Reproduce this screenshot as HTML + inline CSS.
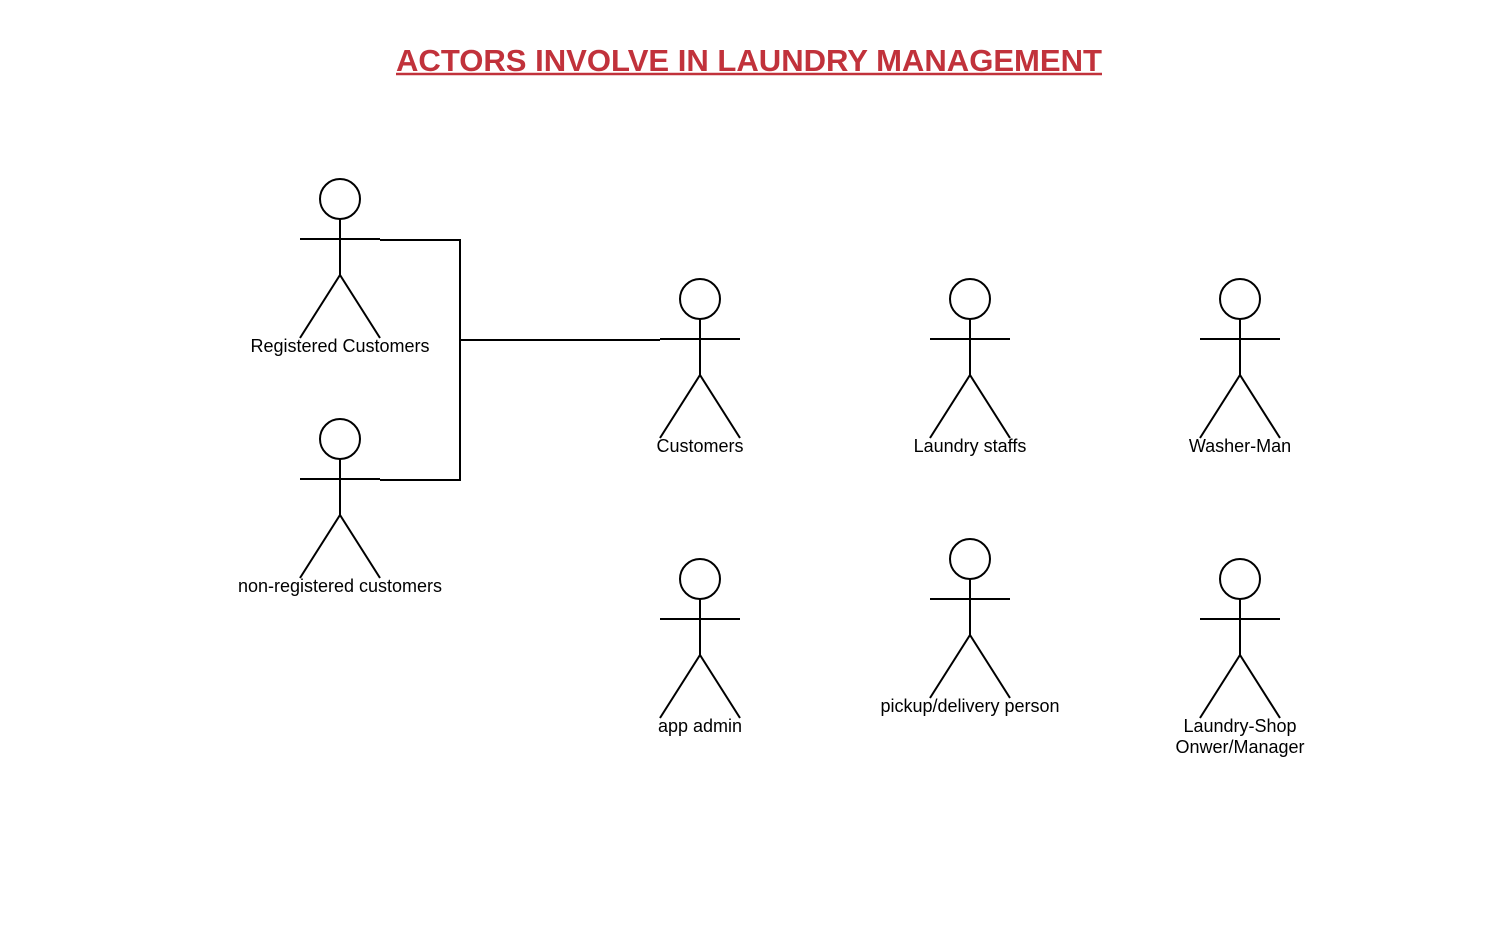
<!DOCTYPE html>
<html><head><meta charset="utf-8"><style>
html,body{margin:0;padding:0;background:#fff;}
svg{display:block;}
text{font-family:"Liberation Sans",sans-serif;}
</style></head><body>
<svg width="1511" height="949" viewBox="0 0 1511 949" xmlns="http://www.w3.org/2000/svg">
<rect width="1511" height="949" fill="#fff"/>
<text x="396" y="71" font-size="31" font-weight="bold" fill="#c1323b" textLength="706" lengthAdjust="spacingAndGlyphs">ACTORS INVOLVE IN LAUNDRY MANAGEMENT</text>
<line x1="396" y1="74" x2="1102" y2="74" stroke="#c1323b" stroke-width="2.5"/>
<g stroke="#000" stroke-width="2" fill="none">
<polyline points="380,240 460,240 460,480 380,480"/>
<line x1="460" y1="340" x2="660" y2="340"/>
</g>
<defs>
<g id="actor" stroke="#000" stroke-width="2" fill="#fff">
<circle cx="0" cy="0" r="20"/>
<line x1="0" y1="20" x2="0" y2="76"/>
<line x1="-40" y1="40" x2="40" y2="40"/>
<polyline points="-40,139 0,76 40,139" fill="none"/>
</g>
</defs>
<use href="#actor" x="340" y="199"/>
<use href="#actor" x="340" y="439"/>
<use href="#actor" x="700" y="299"/>
<use href="#actor" x="970" y="299"/>
<use href="#actor" x="1240" y="299"/>
<use href="#actor" x="700" y="579"/>
<use href="#actor" x="970" y="559"/>
<use href="#actor" x="1240" y="579"/>
<g font-size="18" text-anchor="middle" fill="#000">
<text x="340" y="352">Registered Customers</text>
<text x="340" y="592">non-registered customers</text>
<text x="700" y="452">Customers</text>
<text x="970" y="452">Laundry staffs</text>
<text x="1240" y="452">Washer-Man</text>
<text x="700" y="732">app admin</text>
<text x="970" y="712">pickup/delivery person</text>
<text x="1240" y="732">Laundry-Shop</text>
<text x="1240" y="753">Onwer/Manager</text>
</g>
</svg>
</body></html>
